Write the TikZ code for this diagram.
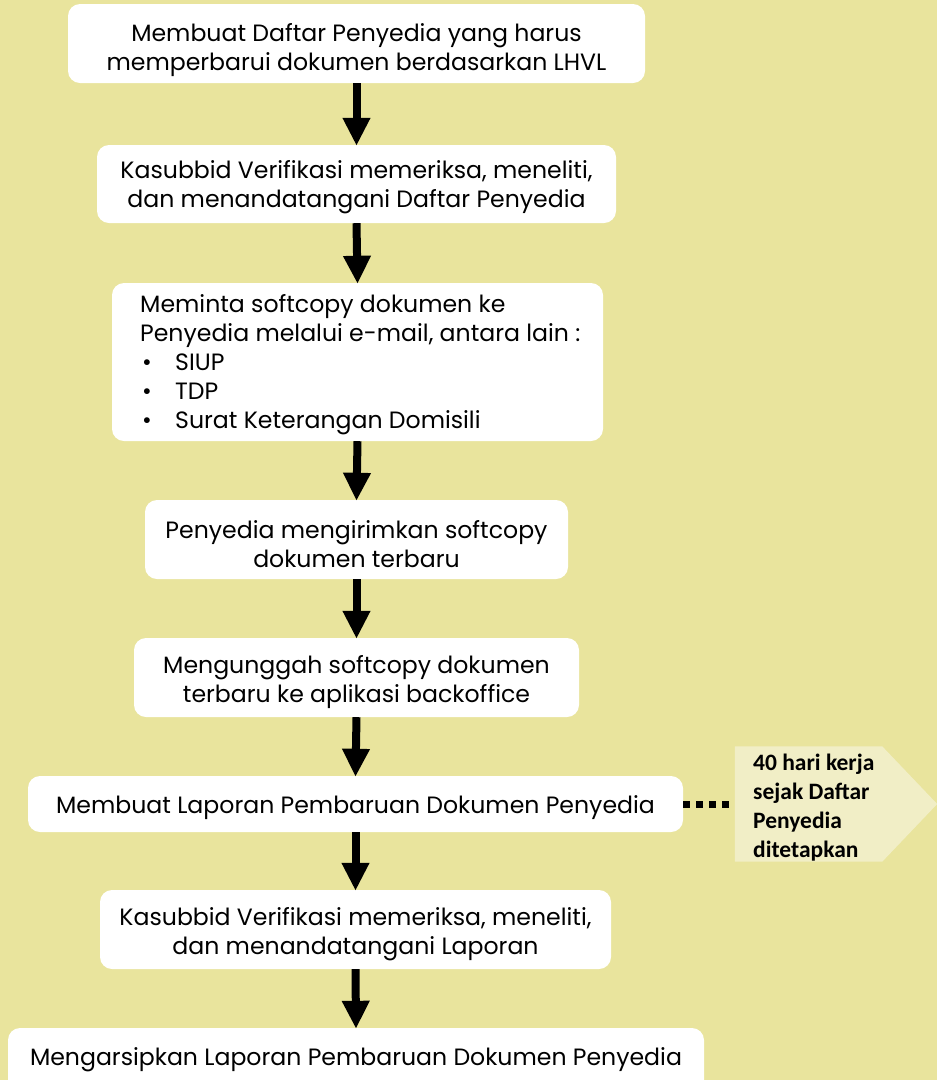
\documentclass[tikz,border=0pt]{standalone}
\usepackage{fontspec}
\setmainfont{Poppins}
\newfontfamily\notefont{Carlito}
\usetikzlibrary{arrows.meta,calc}
\definecolor{bgcol}{HTML}{E9E49D}
\definecolor{notecol}{HTML}{F1EEC6}
\tikzset{
  box/.style={fill=white, draw=none, rounded corners=12pt},
  txt/.style={align=center, font=\fontsize{23.6}{29}\selectfont, inner sep=0pt},
  flow/.style={line width=8pt, -{Triangle[width=26pt,length=28pt]}, shorten >=-1pt},
  dots/.style={line width=7pt, dash pattern=on 7pt off 6pt},
}
\begin{document}
\begin{tikzpicture}[x=1pt,y=-1pt]
\fill[bgcol] (0,0) rectangle (937,1080);
\useasboundingbox (0,0) rectangle (937,1080);
% boxes
\node[box, minimum width=577pt, minimum height=79pt] (b1) at (356.5,43.5) {};
\node[txt] (t1) at (356.5,50) {Membuat Daftar Penyedia yang harus\\memperbarui dokumen berdasarkan LHVL};
\node[box, minimum width=519pt, minimum height=78pt] (b2) at (356.5,184) {};
\node[txt] (t2) at (356.5,187) {Kasubbid Verifikasi memeriksa, meneliti,\\dan menandatangani Daftar Penyedia};
\node[box, minimum width=491pt, minimum height=158pt] (b3) at (357.5,362) {};
\node[txt, align=left, anchor=west] (t3) at (140,365) {Meminta softcopy dokumen ke\\Penyedia melalui e-mail, antara lain :\\\makebox[35pt][l]{\hspace{2pt}•}SIUP\\\makebox[35pt][l]{\hspace{2pt}•}TDP\\\makebox[35pt][l]{\hspace{2pt}•}Surat Keterangan Domisili};
\node[box, minimum width=423pt, minimum height=79pt] (b4) at (356.5,539.5) {};
\node[txt] (t4) at (356.5,544) {Penyedia mengirimkan softcopy\\dokumen terbaru};
\node[box, minimum width=445pt, minimum height=79pt] (b5) at (356.5,677.5) {};
\node[txt] (t5) at (356.5,682) {Mengunggah softcopy dokumen\\terbaru ke aplikasi backoffice};
\node[box, minimum width=655pt, minimum height=56pt] (b6) at (355.5,804) {};
\node[txt] (t6) at (355.5,808) {Membuat Laporan Pembaruan Dokumen Penyedia};
\node[box, minimum width=511pt, minimum height=79pt] (b7) at (355.5,929.5) {};
\node[txt] (t7) at (355.5,934) {Kasubbid Verifikasi memeriksa, meneliti,\\dan menandatangani Laporan};
\node[box, minimum width=696pt, minimum height=64pt] (b8) at (356,1060) {};
\node[txt] (t8) at (356,1060) {Mengarsipkan Laporan Pembaruan Dokumen Penyedia};
% note pentagon
\node[minimum width=147pt, minimum height=115pt, inner sep=0pt] (note) at (808.5,804) {};
\fill[notecol] (note.north west) -- (note.north east) -- ($(note.east)+(55,0)$) -- (note.south east) -- (note.south west) -- cycle;
\node[align=left, anchor=west, inner sep=0pt, font=\notefont\bfseries\fontsize{23.5}{29}\selectfont] (nt) at (753,808) {40 hari kerja\\sejak Daftar\\Penyedia\\ditetapkan};
% connectors
\draw[flow] (b1.south) -- (b2.north);
\draw[flow] (b2.south) -- (b3.north);
\draw[flow] (b3.south) -- (b4.north);
\draw[flow] (b4.south) -- (b5.north);
\draw[flow] (b5.south) -- (b6.north);
\draw[flow] (b6.south) -- (b7.north);
\draw[flow] (b7.south) -- (b8.north);
\draw[dots] (b6.east) -- (note.west);
\end{tikzpicture}
\end{document}
